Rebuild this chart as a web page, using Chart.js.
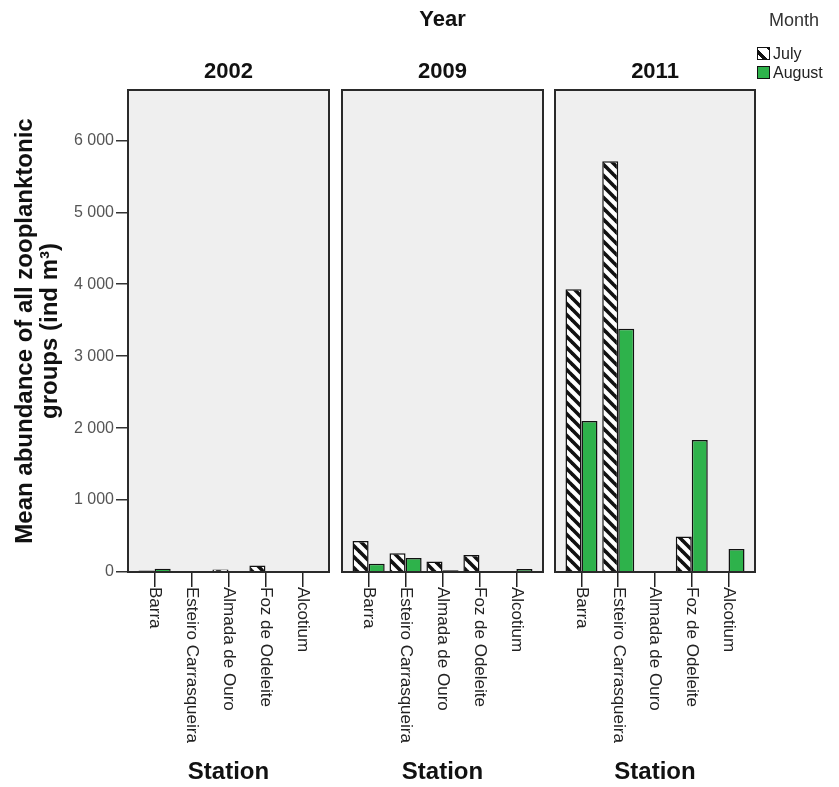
<!DOCTYPE html>
<html>
<head>
<meta charset="utf-8">
<script src="https://cdn.jsdelivr.net/npm/chart.js@4.4.1/dist/chart.umd.min.js"></script>
<style>
  html, body { margin: 0; padding: 0; background: #fff; }
  body { position: relative; width: 839px; height: 787px; overflow: hidden;
         font-family: "Liberation Sans", Arial, sans-serif; }
  canvas { position: absolute; top: 0; }
  #legend { position: absolute; left: 757px; top: 8px; color: #333; }
  #legend .head { font-size: 18px; margin-left: 12px; height: 36px; line-height: 24px; }
  #legend .row { display: flex; align-items: center; height: 19px; font-size: 16px; color: #222; }
  #legend .box { width: 11px; height: 11px; border: 1.5px solid #111; margin-right: 3px; box-sizing: content-box; }
  #legend .july { background: repeating-linear-gradient(45deg, #fff 0 3px, #111 3px 7px, #fff 7px 11px); }
  #legend .august { background: #2eb24b; }
</style>
</head>
<body>
<canvas id="c2002" width="332" height="787" style="left:0px"></canvas>
<canvas id="c2009" width="210" height="787" style="left:336px"></canvas>
<canvas id="c2011" width="209" height="787" style="left:549px"></canvas>
<div id="legend">
  <div class="head">Month</div>
  <div class="row"><span class="box july"></span>July</div>
  <div class="row"><span class="box august"></span>August</div>
</div>
<script>
// Sampling stations (x axis of every panel)
const stations = ['Barra', 'Esteiro Carrasqueira', 'Almada de Ouro', 'Foz de Odeleite', 'Alcotium'];
const years = ['2002', '2009', '2011'];

// Mean abundance of all zooplanktonic groups (ind m-3)
const july2002   = [20, 0, 35, 90, 0];
const august2002 = [45, 0, 10, 15, 5];
const july2009   = [430, 260, 145, 235, 0];
const august2009 = [115, 195, 25, 8, 40];
const july2011   = [3930, 5710, 0, 495, 0];
const august2011 = [2100, 3380, 0, 1835, 320];

// Value axis
const yTickValues = [0, 1000, 2000, 3000, 4000, 5000, 6000];
const yMax = 6700;

const FONT = '"Liberation Sans", Arial, sans-serif';
const GREEN = '#2eb24b';

// Black "\" hatching for the July bars
function hatchPattern() {
  const s = 11;
  const c = document.createElement('canvas');
  c.width = s; c.height = s;
  const g = c.getContext('2d');
  g.fillStyle = '#ffffff';
  g.fillRect(0, 0, s, s);
  g.strokeStyle = '#111111';
  g.lineWidth = 3.6;
  g.lineCap = 'square';
  for (const k of [-1, 0, 1]) {
    g.beginPath();
    g.moveTo(k * s, 0);
    g.lineTo(k * s + s, s);
    g.stroke();
  }
  return g.createPattern(c, 'repeat');
}
const hatch = hatchPattern();

const fmtThousands = v => String(v).replace(/\B(?=(\d{3})+(?!\d))/g, ' ');

// Grey panel with a dark frame
const panelFrame = {
  id: 'panelFrame',
  beforeDatasetsDraw(chart) {
    const { ctx, chartArea: a } = chart;
    ctx.save();
    ctx.fillStyle = '#efefef';
    ctx.fillRect(a.left, a.top, a.width, a.height);
    ctx.restore();
  },
  afterDatasetsDraw(chart) {
    const { ctx, chartArea: a } = chart;
    ctx.save();
    ctx.strokeStyle = '#2a2a2a';
    ctx.lineWidth = 2;
    ctx.strokeRect(a.left, a.top, a.width, a.height);
    ctx.restore();
  }
};

// Station names written downward under each tick
const stationLabels = {
  id: 'stationLabels',
  afterDraw(chart) {
    const { ctx, chartArea } = chart;
    const xs = chart.scales.x;
    ctx.save();
    ctx.font = '17px ' + FONT;
    ctx.fillStyle = '#222';
    ctx.textAlign = 'left';
    ctx.textBaseline = 'middle';
    stations.forEach((name, i) => {
      ctx.save();
      ctx.translate(xs.getPixelForValue(i), chartArea.bottom + 15);
      ctx.rotate(Math.PI / 2);
      ctx.fillText(name, 0, 0);
      ctx.restore();
    });
    ctx.restore();
  }
};

function points(values) {
  return values.map((v, i) => ({ x: i, y: v }));
}

function makePanel(id, year, july, august, opts) {
  const first = opts.first;
  return new Chart(document.getElementById(id), {
    type: 'bar',
    data: {
      datasets: [
        { label: 'July', data: points(july), backgroundColor: hatch,
          borderColor: '#111', borderWidth: 1.5 },
        { label: 'August', data: points(august), backgroundColor: GREEN,
          borderColor: '#111', borderWidth: 1.5 }
      ]
    },
    plugins: [panelFrame, stationLabels],
    options: {
      responsive: false,
      animation: false,
      events: [],
      layout: { padding: { top: opts.padTop, left: opts.padLeft, right: 3, bottom: 0 } },
      datasets: { bar: { categoryPercentage: 0.87, barPercentage: 1.0 } },
      plugins: {
        legend: { display: false },
        tooltip: { enabled: false },
        title: {
          display: !!opts.title, text: opts.title || '', color: '#111', fullSize: false,
          font: { family: FONT, size: 22, weight: 'bold' }, padding: { top: 7, bottom: 7 }
        },
        subtitle: {
          display: true, text: year, color: '#111', fullSize: false,
          font: { family: FONT, size: 22, weight: 'bold' }, padding: { top: 18.4, bottom: 4.8 }
        }
      },
      scales: {
        x: {
          type: 'linear',
          bounds: 'data',
          min: -0.72, max: 4.72,
          offset: false,
          afterBuildTicks: axis => { axis.ticks = stations.map((s, i) => ({ value: i })); },
          afterFit: axis => { axis.height = 215; },
          ticks: { display: false },
          grid: { display: true, offset: false, drawOnChartArea: false, drawTicks: true,
                  tickLength: 15, color: '#222', lineWidth: 1.5 },
          border: { display: true, color: '#2a2a2a', width: 2 },
          title: { display: true, text: 'Station', color: '#111',
                   font: { family: FONT, size: 24, weight: 'bold' }, padding: { top: 0, bottom: 0 } }
        },
        y: {
          display: first,
          bounds: 'data',
          min: 0, max: yMax,
          afterBuildTicks: axis => { axis.ticks = yTickValues.map(v => ({ value: v })); },
          afterFit: axis => { if (first) axis.width = 128; },
          ticks: { color: '#555', padding: 2, font: { family: FONT, size: 16 },
                   callback: v => fmtThousands(v) },
          grid: { drawOnChartArea: false, drawTicks: true, tickLength: 12, color: '#333', lineWidth: 1.5 },
          border: { display: true, color: '#2a2a2a', width: 2 },
          title: {
            display: first,
            text: ['Mean abundance of all zooplanktonic', 'groups (ind m³)'],
            color: '#111',
            font: { family: FONT, size: 24, weight: 'bold', lineHeight: 1.05 },
            padding: { top: 13, bottom: 0 }
          }
        }
      }
    }
  });
}

const TITLE_BLOCK = 22 * 1.2 + 14; // height taken by the "Year" heading

makePanel('c2002', years[0], july2002, august2002, { first: true, padTop: TITLE_BLOCK, padLeft: 0 });
makePanel('c2009', years[1], july2009, august2009, { first: false, padTop: 0, padLeft: 6, title: 'Year' });
makePanel('c2011', years[2], july2011, august2011, { first: false, padTop: TITLE_BLOCK, padLeft: 6 });
</script>
</body>
</html>
